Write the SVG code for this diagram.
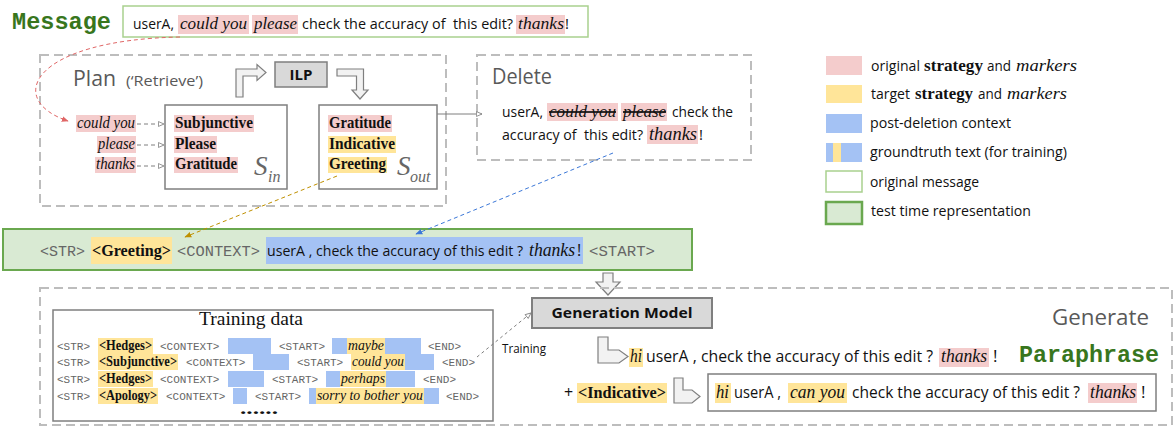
<svg xmlns="http://www.w3.org/2000/svg" width="1175" height="428" viewBox="0 0 1175 428">
<defs>
<style>
.sans{font-family:"Open Sans","Liberation Sans",sans-serif;fill:#111}
.serif{font-family:"Liberation Serif","DejaVu Serif",serif;fill:#111}
.it{font-style:italic}
.b{font-weight:bold}
.mono{font-family:"Liberation Mono","DejaVu Sans Mono",monospace;fill:#666}
.pink{fill:#f4cccc}.yel{fill:#ffe599}.blue{fill:#a4c2f4}
.dash{fill:none;stroke:#bdbdbd;stroke-width:2;stroke-dasharray:9 5}
.box{fill:#fff;stroke:#7f7f7f;stroke-width:1.5}
.barrow{fill:#f2f2f2;stroke:#7f7f7f;stroke-width:1.2}
.title{font-family:"Open Sans","Liberation Sans",sans-serif;fill:#595959}
.green{font-family:"Liberation Mono","DejaVu Sans Mono",monospace;font-weight:bold;fill:#38761d}
.S{font-family:"Liberation Serif","DejaVu Serif",serif;font-style:italic;fill:#666}
.pre{white-space:pre}
</style>
<marker id="ag" viewBox="0 0 10 10" refX="9" refY="5" markerWidth="7" markerHeight="7" orient="auto"><path d="M1,1.5 L9,5 L1,8.5 Z" fill="#fff" stroke="#7f7f7f" stroke-width="1.2"/></marker>
<marker id="ar" viewBox="0 0 10 10" refX="9" refY="5" markerWidth="7" markerHeight="7" orient="auto"><path d="M0,1 L10,5 L0,9 Z" fill="#e06666"/></marker>
<marker id="ao" viewBox="0 0 10 10" refX="9" refY="5" markerWidth="7" markerHeight="7" orient="auto"><path d="M0,1 L10,5 L0,9 Z" fill="#bf9000"/></marker>
<marker id="ab" viewBox="0 0 10 10" refX="9" refY="5" markerWidth="7" markerHeight="7" orient="auto"><path d="M0,1 L10,5 L0,9 Z" fill="#3c78d8"/></marker>
</defs>

<!-- Message -->
<g id="message">
<text x="12" y="29" class="green" font-size="23" textLength="99" lengthAdjust="spacingAndGlyphs">Message</text>
<rect x="123" y="6" width="465" height="31" fill="#fff" stroke="#a9d18e" stroke-width="1.5"/>
<rect x="178" y="15" width="71" height="19" class="pink"/>
<rect x="252" y="15" width="46" height="19" class="pink"/>
<rect x="516" y="15" width="49" height="19" class="pink"/>
<text x="133" y="29" class="sans" font-size="15" textLength="41" lengthAdjust="spacingAndGlyphs">userA,</text>
<text x="180" y="29" class="serif it" font-size="17" textLength="67" lengthAdjust="spacingAndGlyphs">could you</text>
<text x="254" y="29" class="serif it" font-size="17" textLength="43" lengthAdjust="spacingAndGlyphs">please</text>
<text x="302" y="29" class="sans pre" font-size="14.4" textLength="211" lengthAdjust="spacingAndGlyphs">check the accuracy of  this edit?</text>
<text x="518" y="29" class="serif it" font-size="17" textLength="46" lengthAdjust="spacingAndGlyphs">thanks</text>
<text x="565" y="29" class="sans" font-size="15">!</text>
</g>

<!-- Plan -->
<g id="plan">
<rect x="40" y="55" width="406" height="151" class="dash"/>
<text x="73" y="86" class="title" font-size="21" textLength="43" lengthAdjust="spacingAndGlyphs">Plan</text>
<text x="126" y="86" class="title" font-size="14" textLength="77" lengthAdjust="spacingAndGlyphs">(‘Retrieve’)</text>
</g>

<g id="ilp">
<path d="M236,97 L236,69 L257,69 L257,64.5 L266,72.5 L257,80.5 L257,76 L243,76 L243,97 Z" class="barrow"/>
<rect x="275" y="62" width="52" height="25" fill="#d9d9d9" stroke="#7f7f7f" stroke-width="1.5"/>
<text x="301" y="80" class="sans b" font-size="15" text-anchor="middle" fill="#111">ILP</text>
<path d="M337,69 L363.5,69 L363.5,90 L368,90 L360,99 L352,90 L356.5,90 L356.5,76 L337,76 Z" class="barrow"/>
</g>

<g id="markers">
<rect x="76" y="115" width="60" height="17" class="pink"/>
<rect x="97" y="136" width="39" height="17" class="pink"/>
<rect x="95" y="157" width="41" height="16" class="pink"/>
<text x="135" y="128" class="serif it" font-size="16" text-anchor="end" textLength="58" lengthAdjust="spacingAndGlyphs">could you</text>
<text x="135" y="149" class="serif it" font-size="16" text-anchor="end" textLength="37" lengthAdjust="spacingAndGlyphs">please</text>
<text x="135" y="169" class="serif it" font-size="16" text-anchor="end" textLength="39" lengthAdjust="spacingAndGlyphs">thanks</text>
</g>

<g id="s_in">
<rect x="165" y="105" width="122" height="84" class="box"/>
<rect x="174" y="115" width="80" height="17" class="pink"/>
<rect x="174" y="136" width="43" height="17" class="pink"/>
<rect x="174" y="157" width="64" height="16" class="pink"/>
<text x="175" y="128" class="serif b" font-size="16" textLength="78" lengthAdjust="spacingAndGlyphs">Subjunctive</text>
<text x="175" y="149" class="serif b" font-size="16" textLength="41" lengthAdjust="spacingAndGlyphs">Please</text>
<text x="175" y="169" class="serif b" font-size="16" textLength="62" lengthAdjust="spacingAndGlyphs">Gratitude</text>
<text x="254" y="175" class="S" font-size="27">S</text>
<text x="268" y="182" class="S" font-size="16">in</text>
</g>

<g id="s_out">
<rect x="319" y="105" width="118" height="84" class="box"/>
<rect x="328" y="115" width="64" height="17" class="pink"/>
<rect x="328" y="136" width="68" height="17" class="yel"/>
<rect x="328" y="157" width="59" height="16" class="yel"/>
<text x="329" y="128" class="serif b" font-size="16" textLength="62" lengthAdjust="spacingAndGlyphs">Gratitude</text>
<text x="329" y="149" class="serif b" font-size="16" textLength="66" lengthAdjust="spacingAndGlyphs">Indicative</text>
<text x="329" y="169" class="serif b" font-size="16" textLength="57" lengthAdjust="spacingAndGlyphs">Greeting</text>
<text x="397" y="175" class="S" font-size="27">S</text>
<text x="410" y="182" class="S" font-size="16">out</text>
</g>

<!-- Delete -->
<g id="delete">
<rect x="477" y="55" width="274" height="105" class="dash"/>
<text x="492" y="84" class="title" font-size="21" textLength="60" lengthAdjust="spacingAndGlyphs">Delete</text>
<rect x="547" y="103" width="71" height="18" class="pink"/>
<rect x="621" y="103" width="46" height="18" class="pink"/>
<rect x="647" y="125" width="51" height="19" class="pink"/>
<text x="502" y="117" class="sans" font-size="15" textLength="41" lengthAdjust="spacingAndGlyphs">userA,</text>
<text x="549" y="117" class="serif it" font-size="17" text-decoration="line-through" textLength="67" lengthAdjust="spacingAndGlyphs">could you</text>
<text x="623" y="117" class="serif it" font-size="17" text-decoration="line-through" textLength="43" lengthAdjust="spacingAndGlyphs">please</text>
<text x="672" y="117" class="sans" font-size="15" textLength="61" lengthAdjust="spacingAndGlyphs">check the</text>
<text x="502" y="140" class="sans pre" font-size="14.1" textLength="141" lengthAdjust="spacingAndGlyphs">accuracy of  this edit?</text>
<text x="649" y="140" class="serif it" font-size="18" textLength="48" lengthAdjust="spacingAndGlyphs">thanks</text>
<text x="699" y="140" class="sans" font-size="15">!</text>
</g>

<!-- Legend -->
<g id="legend">
<rect x="826" y="56" width="36" height="19" class="pink"/>
<rect x="826" y="85" width="36" height="18" class="yel"/>
<rect x="826" y="114" width="36" height="19" class="blue"/>
<rect x="826" y="143" width="36" height="19" class="blue"/>
<rect x="833" y="143" width="8" height="19" class="yel"/>
<rect x="826" y="171" width="36" height="21" fill="#fff" stroke="#a9d18e" stroke-width="1.5"/>
<rect x="826" y="202" width="36" height="22" fill="#d9ead3" stroke="#6aa84f" stroke-width="2.5"/>
<text x="871" y="71" class="sans" font-size="15" textLength="49" lengthAdjust="spacingAndGlyphs">original</text>
<text x="924" y="71" class="serif b" font-size="17" textLength="59" lengthAdjust="spacingAndGlyphs">strategy</text>
<text x="987" y="71" class="sans" font-size="15" textLength="24" lengthAdjust="spacingAndGlyphs">and</text>
<text x="1016" y="71" class="serif it" font-size="17" textLength="61" lengthAdjust="spacingAndGlyphs">markers</text>
<text x="871" y="99" class="sans" font-size="15" textLength="39" lengthAdjust="spacingAndGlyphs">target</text>
<text x="915" y="99" class="serif b" font-size="17" textLength="58" lengthAdjust="spacingAndGlyphs">strategy</text>
<text x="978" y="99" class="sans" font-size="15" textLength="24" lengthAdjust="spacingAndGlyphs">and</text>
<text x="1007" y="99" class="serif it" font-size="17" textLength="60" lengthAdjust="spacingAndGlyphs">markers</text>
<text x="870" y="128" class="sans" font-size="15" textLength="141" lengthAdjust="spacingAndGlyphs">post-deletion context</text>
<text x="870" y="157" class="sans" font-size="15" textLength="197" lengthAdjust="spacingAndGlyphs">groundtruth text (for training)</text>
<text x="870" y="187" class="sans" font-size="15" textLength="109" lengthAdjust="spacingAndGlyphs">original message</text>
<text x="871" y="216" class="sans" font-size="15" textLength="160" lengthAdjust="spacingAndGlyphs">test time representation</text>
</g>

<!-- Test time representation -->
<g id="test_bar">
<rect x="3" y="229" width="689" height="41" fill="#d9ead3" stroke="#6aa84f" stroke-width="2"/>
<rect x="91" y="237" width="81" height="27" class="yel"/>
<rect x="266" y="237" width="317" height="27" class="blue"/>
<text x="40" y="256" class="mono" font-size="15" textLength="45" lengthAdjust="spacingAndGlyphs">&lt;STR&gt;</text>
<text x="92" y="256" class="serif b" font-size="17" textLength="79" lengthAdjust="spacingAndGlyphs">&lt;Greeting&gt;</text>
<text x="177" y="256" class="mono" font-size="15" textLength="83" lengthAdjust="spacingAndGlyphs">&lt;CONTEXT&gt;</text>
<text x="267" y="256" class="sans" font-size="14" textLength="256" lengthAdjust="spacingAndGlyphs">userA , check the accuracy of this edit ?</text>
<text x="529" y="256" class="serif it" font-size="18" textLength="46" lengthAdjust="spacingAndGlyphs">thanks</text>
<text x="577" y="256" class="sans" font-size="16">!</text>
<text x="589" y="256" class="mono" font-size="15" textLength="66" lengthAdjust="spacingAndGlyphs">&lt;START&gt;</text>
</g>

<path id="down_arrow" d="M603,273 L613,273 L613,282 L620,282 L608,295 L596,282 L603,282 Z" class="barrow"/>

<!-- Generate -->
<g id="generate">
<rect x="40" y="288" width="1132" height="137" class="dash"/>
<text x="1052" y="325" class="title" font-size="22" textLength="97" lengthAdjust="spacingAndGlyphs">Generate</text>
<text x="1019" y="362" class="green" font-size="23" textLength="140" lengthAdjust="spacingAndGlyphs">Paraphrase</text>
</g>

<g id="generation_model">
<rect x="532" y="298" width="180" height="30" fill="#d9d9d9" stroke="#7f7f7f" stroke-width="2"/>
<text x="622" y="318" class="sans b" font-size="15" text-anchor="middle" textLength="141" lengthAdjust="spacingAndGlyphs">Generation Model</text>
</g>

<g id="training_data">
<rect x="53" y="310" width="440" height="111" class="box"/>
<text x="199" y="325" class="serif" font-size="18" textLength="104" lengthAdjust="spacingAndGlyphs">Training data</text>
<!-- row 1 -->
<rect x="98" y="338" width="55" height="16" class="yel"/>
<rect x="228" y="338" width="43" height="16" class="blue"/>
<rect x="332" y="338" width="89" height="16" class="blue"/>
<rect x="347" y="338" width="38" height="16" class="yel"/>
<text x="57" y="350" class="mono" font-size="11">&lt;STR&gt;</text>
<text x="99" y="350" class="serif b" font-size="14" textLength="53" lengthAdjust="spacingAndGlyphs">&lt;Hedges&gt;</text>
<text x="160" y="350" class="mono" font-size="11">&lt;CONTEXT&gt;</text>
<text x="279" y="350" class="mono" font-size="11">&lt;START&gt;</text>
<text x="348" y="350" class="serif it" font-size="14" textLength="36" lengthAdjust="spacingAndGlyphs">maybe</text>
<text x="428" y="350" class="mono" font-size="11">&lt;END&gt;</text>
<!-- row 2 -->
<rect x="98" y="354" width="80" height="16" class="yel"/>
<rect x="253" y="354" width="36" height="16" class="blue"/>
<rect x="351" y="354" width="54" height="16" class="yel"/>
<rect x="405" y="354" width="29" height="16" class="blue"/>
<text x="57" y="366" class="mono" font-size="11">&lt;STR&gt;</text>
<text x="99" y="366" class="serif b" font-size="14" textLength="78" lengthAdjust="spacingAndGlyphs">&lt;Subjunctive&gt;</text>
<text x="186" y="366" class="mono" font-size="11">&lt;CONTEXT&gt;</text>
<text x="297" y="366" class="mono" font-size="11">&lt;START&gt;</text>
<text x="352" y="366" class="serif it" font-size="14" textLength="52" lengthAdjust="spacingAndGlyphs">could you</text>
<text x="442" y="366" class="mono" font-size="11">&lt;END&gt;</text>
<!-- row 3 -->
<rect x="98" y="371" width="55" height="16" class="yel"/>
<rect x="228" y="371" width="36" height="16" class="blue"/>
<rect x="326" y="371" width="89" height="16" class="blue"/>
<rect x="340" y="371" width="46" height="16" class="yel"/>
<text x="57" y="383" class="mono" font-size="11">&lt;STR&gt;</text>
<text x="99" y="383" class="serif b" font-size="14" textLength="53" lengthAdjust="spacingAndGlyphs">&lt;Hedges&gt;</text>
<text x="160" y="383" class="mono" font-size="11">&lt;CONTEXT&gt;</text>
<text x="272" y="383" class="mono" font-size="11">&lt;START&gt;</text>
<text x="341" y="383" class="serif it" font-size="14" textLength="44" lengthAdjust="spacingAndGlyphs">perhaps</text>
<text x="423" y="383" class="mono" font-size="11">&lt;END&gt;</text>
<!-- row 4 -->
<rect x="98" y="388" width="60" height="16" class="yel"/>
<rect x="233" y="388" width="14" height="16" class="blue"/>
<rect x="309" y="388" width="130" height="16" class="blue"/>
<rect x="316" y="388" width="108" height="16" class="yel"/>
<text x="57" y="400" class="mono" font-size="11">&lt;STR&gt;</text>
<text x="99" y="400" class="serif b" font-size="14" textLength="58" lengthAdjust="spacingAndGlyphs">&lt;Apology&gt;</text>
<text x="166" y="400" class="mono" font-size="11">&lt;CONTEXT&gt;</text>
<text x="255" y="400" class="mono" font-size="11">&lt;START&gt;</text>
<text x="317" y="400" class="serif it" font-size="14" textLength="106" lengthAdjust="spacingAndGlyphs">sorry to bother you</text>
<text x="446" y="400" class="mono" font-size="11">&lt;END&gt;</text>
<text x="240" y="414" class="serif b" font-size="16" textLength="38" lengthAdjust="spacingAndGlyphs">......</text>
</g>

<text id="training_label" x="502" y="353" class="sans" font-size="12" textLength="44" lengthAdjust="spacingAndGlyphs">Training</text>

<g id="output1">
<path d="M598,337 L608,337 L608,350 L619,350 L628,356.5 L619,363 L598,363 Z" class="barrow"/>
<rect x="629" y="348" width="14" height="19" class="yel"/>
<rect x="939" y="348" width="50" height="19" class="pink"/>
<text x="630" y="362" class="serif it" font-size="18" textLength="12" lengthAdjust="spacingAndGlyphs">hi</text>
<text x="646" y="362" class="sans" font-size="15.7" textLength="287" lengthAdjust="spacingAndGlyphs">userA , check the accuracy of this edit ?</text>
<text x="941" y="362" class="serif it" font-size="18" textLength="46" lengthAdjust="spacingAndGlyphs">thanks</text>
<text x="993" y="362" class="sans" font-size="17">!</text>
</g>

<g id="output2">
<text x="564" y="398" class="sans" font-size="16">+</text>
<rect x="577" y="383" width="90" height="20" class="yel"/>
<text x="578" y="398" class="serif b" font-size="17" textLength="88" lengthAdjust="spacingAndGlyphs">&lt;Indicative&gt;</text>
<path d="M674,378 L683,378 L683,390 L692,390 L700,396.5 L692,403 L674,403 Z" class="barrow"/>
<rect x="708" y="374" width="448" height="37" class="box"/>
<rect x="715" y="383" width="16" height="20" class="yel"/>
<rect x="788" y="383" width="59" height="20" class="yel"/>
<rect x="1088" y="383" width="49" height="20" class="pink"/>
<text x="716" y="398" class="serif it" font-size="18" textLength="13" lengthAdjust="spacingAndGlyphs">hi</text>
<text x="734" y="398" class="sans" font-size="15.7" textLength="47" lengthAdjust="spacingAndGlyphs">userA ,</text>
<text x="790" y="398" class="serif it" font-size="18" textLength="55" lengthAdjust="spacingAndGlyphs">can you</text>
<text x="852" y="398" class="sans" font-size="15.4" textLength="228" lengthAdjust="spacingAndGlyphs">check the accuracy of this edit ?</text>
<text x="1090" y="398" class="serif it" font-size="18" textLength="46" lengthAdjust="spacingAndGlyphs">thanks</text>
<text x="1141" y="398" class="sans" font-size="17">!</text>
</g>

<!-- Connectors -->
<g id="connectors" fill="none">
<path d="M180,37 C30,40 5,100 68,121" stroke="#e06666" stroke-width="1" stroke-dasharray="4 3" marker-end="url(#ar)"/>
<path d="M137,124 L164,124" stroke="#7f7f7f" stroke-width="1" stroke-dasharray="4 3" marker-end="url(#ag)"/>
<path d="M137,145 L164,145" stroke="#7f7f7f" stroke-width="1" stroke-dasharray="4 3" marker-end="url(#ag)"/>
<path d="M137,166 L164,166" stroke="#7f7f7f" stroke-width="1" stroke-dasharray="4 3" marker-end="url(#ag)"/>
<path d="M437,114 L482,114" stroke="#7f7f7f" stroke-width="1" marker-end="url(#ag)"/>
<path d="M337,176 L185,237" stroke="#bf9000" stroke-width="1" stroke-dasharray="4 3" marker-end="url(#ao)"/>
<path d="M613,153 L416,234" stroke="#3c78d8" stroke-width="1" stroke-dasharray="4 3" marker-end="url(#ab)"/>
<path d="M477,357 L531,313" stroke="#7f7f7f" stroke-width="1" stroke-dasharray="3 3" marker-end="url(#ag)"/>
</g>
</svg>
